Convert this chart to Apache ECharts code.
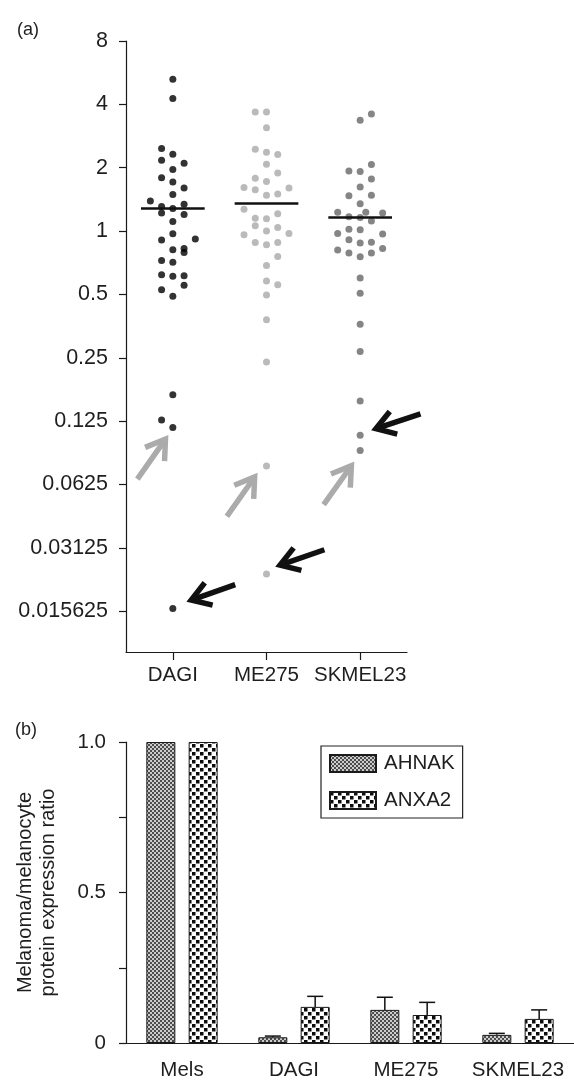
<!DOCTYPE html>
<html>
<head>
<meta charset="utf-8">
<script src="https://cdn.jsdelivr.net/npm/echarts@6/dist/echarts.min.js"></script>
<style>
html, body { margin: 0; padding: 0; background: #fff; }
#chart-container { width: 574px; height: 1081px; }
</style>
</head>
<body>
<div id="chart-container"></div>
<script>
// (a) scatter: values per cell line, slot = beeswarm column
var groupNames = ['DAGI', 'ME275', 'SKMEL23'];

var dagiValues = [5.26, 4.26, 2.47, 2.32, 2.17, 2.10, 1.96, 1.79, 1.71, 1.60, 1.49, 1.39, 1.34, 1.31, 1.28, 1.22, 1.20, 1.11,
  0.97, 0.906, 0.916, 0.815, 0.827, 0.792, 0.725, 0.71, 0.62, 0.61, 0.614, 0.553, 0.526, 0.49, 0.167, 0.1265, 0.1166, 0.0161];
var dagiSlots = [0, 0, -1, 0, -1, 1, 0, -1, 0, 1, 0, -2, 1, -1, 0, -1, 1, 0,
  0, -1, 2, 0, 1, 1, -1, 0, -1, 0, 1, 1, -1, 0, 0, -1, 0, 0];

var me275Values = [3.68, 3.68, 3.10, 2.45, 2.37, 2.31, 2.08, 1.89, 1.78, 1.72, 1.61, 1.57, 1.60, 1.48, 1.50, 1.27, 1.21, 1.15,
  1.145, 1.06, 1.0, 1.04, 0.96, 0.975, 0.883, 0.861, 0.883, 0.758, 0.687, 0.579, 0.556, 0.497, 0.379, 0.239, 0.0765, 0.0235];
var me275Slots = [-1, 0, 0, -1, 0, 1, 0, 1, -1, 0, -2, -1, 2, 0, 1, -2, 1, -1,
  0, -1, 0, 1, -2, 2, -1, 0, 1, 1, 0, 0, 1, 0, 0, 0, 0, 0];

var skmelValues = [3.60, 3.36, 2.07, 1.93, 1.92, 1.77, 1.62, 1.47, 1.48, 1.35, 1.23, 1.17, 1.16, 1.23, 1.116, 1.22,
  0.975, 1.02, 1.015, 0.968, 0.91, 0.877, 0.886, 0.812, 0.786, 0.755, 0.786, 0.827, 0.598, 0.506, 0.361, 0.268, 0.156, 0.107, 0.0906];
var skmelSlots = [1, 0, 1, -1, 0, 1, 0, -1, 1, 0, -2, -1, 0, 0.5, 1, 2,
  -2, -1, 0, 2, -1, 0, 1, -2, -1, 0, 1, 2, 0, 0, 0, 0, 0, 0, 0];

var medians = [1.29, 1.36, 1.16];

var yTicks = [0.015625, 0.03125, 0.0625, 0.125, 0.25, 0.5, 1, 2, 4, 8];
var yTickLabels = ['0.015625', '0.03125', '0.0625', '0.125', '0.25', '0.5', '1', '2', '4', '8'];

// annotation arrows [tailX, tailY, tipX, tipY]
var grayArrows = [
  [0.621, 0.0663, 0.946, 0.1064],
  [1.577, 0.0441, 1.898, 0.0703],
  [2.610, 0.0501, 2.931, 0.0795]
];
var blackArrows = [
  [1.666, 0.0209, 1.156, 0.0174],
  [2.618, 0.0306, 2.104, 0.0255],
  [3.644, 0.1354, 3.128, 0.1136]
];

// (b) bars
var barCategories = ['Mels', 'DAGI', 'ME275', 'SKMEL23'];
var ahnakValues = [1.0, 0.019, 0.110, 0.027];
var ahnakErrors = [0, 0.004, 0.042, 0.005];
var anxa2Values = [1.0, 0.120, 0.093, 0.080];
var anxa2Errors = [0, 0.035, 0.042, 0.030];

var TEXT = '#1e1e1e';
var FONT = 'Liberation Sans';
var SLOT_W = 0.12;
var MED_HALF = 0.34;
var BAR_W = 29;
var BAR_GAP = 0.46;

function swarm(values, slots, g) {
  return values.map(function (v, i) { return [g + 1 + slots[i] * SLOT_W, v]; });
}

function makePattern(size, bg, fg, rects) {
  var c = document.createElement('canvas');
  c.width = size; c.height = size;
  var ctx = c.getContext('2d');
  ctx.fillStyle = bg; ctx.fillRect(0, 0, size, size);
  ctx.fillStyle = fg;
  rects.forEach(function (r) { ctx.fillRect(r[0], r[1], r[2], r[3]); });
  return { image: c, repeat: 'repeat' };
}
var ahnakPattern = makePattern(4, '#cccccc', '#4d4d4d', [[0, 0, 2, 2], [2, 2, 2, 2]]);
var anxa2Pattern = makePattern(8, '#ffffff', '#0d0d0d', [[0, 0, 3.5, 3.5], [4, 4, 3.5, 3.5]]);

function yLabel(v) {
  for (var i = 0; i < yTicks.length; i++) {
    if (Math.abs(Math.log(yTicks[i]) - Math.log(v)) < 1e-6) return yTickLabels[i];
  }
  return '';
}

function arrowRender(color) {
  return function (params, api) {
    var p1 = api.coord([api.value(0), api.value(1)]);
    var p2 = api.coord([api.value(2), api.value(3)]);
    var back = Math.atan2(p1[1] - p2[1], p1[0] - p2[0]);
    var tip = [p2[0] + 4 * Math.cos(back), p2[1] + 4 * Math.sin(back)];
    var L = 22, h = Math.PI / 5.5;
    return {
      type: 'group',
      children: [
        { type: 'line', shape: { x1: p1[0], y1: p1[1], x2: tip[0], y2: tip[1] },
          style: { stroke: color, lineWidth: 5.5 } },
        { type: 'polyline', shape: { points: [
            [tip[0] + L * Math.cos(back + h), tip[1] + L * Math.sin(back + h)],
            tip,
            [tip[0] + L * Math.cos(back - h), tip[1] + L * Math.sin(back - h)]
          ] },
          style: { stroke: color, lineWidth: 5.5, fill: null, lineJoin: 'miter', lineCap: 'butt' } }
      ]
    };
  };
}

function errorRender(offset) {
  return function (params, api) {
    var base = api.coord([api.value(0), api.value(1)]);
    var top = api.coord([api.value(0), api.value(2)]);
    var x = base[0] + offset;
    return {
      type: 'group',
      children: [
        { type: 'line', shape: { x1: x, y1: base[1], x2: x, y2: top[1] }, style: { stroke: '#111', lineWidth: 1.5 } },
        { type: 'line', shape: { x1: x - 8, y1: top[1], x2: x + 8, y2: top[1] }, style: { stroke: '#111', lineWidth: 1.5 } }
      ]
    };
  };
}

function errData(values, errors) {
  var out = [];
  values.forEach(function (v, i) { if (errors[i] > 0) out.push([i, v, v + errors[i]]); });
  return out;
}

function medianLine(g) {
  return {
    silent: true, symbol: ['none', 'none'], label: { show: false },
    lineStyle: { color: '#111', width: 2.5, type: 'solid' },
    data: [[{ coord: [g + 1 - MED_HALF, medians[g]] }, { coord: [g + 1 + MED_HALF, medians[g]] }]]
  };
}

var axisLineStyle = { color: '#1a1a1a', width: 1.2 };
var groupColors = ['#000000', '#a9a9a9', '#666666'];
var barOffset = BAR_W * (1 + BAR_GAP) / 2;

var dom = document.getElementById('chart-container');
var myChart = echarts.init(dom);
var option;

option = {
  animation: false,
  textStyle: { fontFamily: FONT },
  title: [
    { text: '(a)', left: 12, top: 16, textStyle: { fontSize: 18, fontWeight: 'normal', color: TEXT, fontFamily: FONT } },
    { text: '(b)', left: 10, top: 716, textStyle: { fontSize: 18, fontWeight: 'normal', color: TEXT, fontFamily: FONT } }
  ],
  legend: {
    data: ['AHNAK', 'ANXA2'],
    orient: 'vertical',
    left: 321, top: 746,
    padding: [7, 8, 7, 8],
    itemWidth: 46, itemHeight: 17, itemGap: 16,
    borderColor: '#222', borderWidth: 1.2,
    selectedMode: false,
    icon: 'rect',
    textStyle: { fontSize: 20.5, color: TEXT, fontFamily: FONT, padding: [0, 0, 0, 3] }
  },
  grid: [
    { left: 126, right: 167, top: 41, bottom: 429 },
    { left: 126, right: -6, top: 742, bottom: 38 }
  ],
  xAxis: [
    {
      gridIndex: 0, type: 'value', min: 0.5, max: 3.5,
      axisLine: { lineStyle: axisLineStyle },
      axisTick: { show: true, customValues: [1, 2, 3], length: 8, lineStyle: axisLineStyle },
      axisLabel: { customValues: [1, 2, 3], formatter: function (v) { return groupNames[Math.round(v) - 1]; },
        fontSize: 20.5, margin: 13, color: TEXT },
      splitLine: { show: false }
    },
    {
      gridIndex: 1, type: 'category', data: barCategories,
      axisLine: { lineStyle: axisLineStyle },
      axisTick: { alignWithLabel: true, length: 9, lineStyle: axisLineStyle },
      axisLabel: { interval: 0, fontSize: 20.5, margin: 17, color: TEXT },
      splitLine: { show: false }
    }
  ],
  yAxis: [
    {
      gridIndex: 0, type: 'log', logBase: 2, min: 0.01, max: 8,
      axisLine: { show: true, lineStyle: axisLineStyle },
      axisTick: { show: true, customValues: yTicks, length: 7, lineStyle: axisLineStyle },
      axisLabel: { customValues: yTicks, formatter: yLabel, fontSize: 21.5, margin: 18, color: TEXT },
      splitLine: { show: false }, minorTick: { show: false }
    },
    {
      gridIndex: 1, type: 'value', min: 0, max: 1, interval: 0.25,
      name: 'Melanoma/melanocyte\nprotein expression ratio',
      nameLocation: 'middle', nameGap: 66,
      nameTextStyle: { fontSize: 20, lineHeight: 23, color: TEXT },
      axisLine: { show: true, lineStyle: axisLineStyle },
      axisTick: { show: true, length: 7, lineStyle: axisLineStyle },
      axisLabel: { fontSize: 20.5, margin: 20, color: TEXT,
        formatter: function (v) { return v === 0 ? '0' : v === 0.5 ? '0.5' : v === 1 ? '1.0' : ''; } },
      splitLine: { show: false }
    }
  ],
  series: [
    { name: 'DAGI', type: 'scatter', xAxisIndex: 0, yAxisIndex: 0, symbolSize: 7,
      itemStyle: { color: groupColors[0] }, data: swarm(dagiValues, dagiSlots, 0), markLine: medianLine(0) },
    { name: 'ME275', type: 'scatter', xAxisIndex: 0, yAxisIndex: 0, symbolSize: 7,
      itemStyle: { color: groupColors[1] }, data: swarm(me275Values, me275Slots, 1), markLine: medianLine(1) },
    { name: 'SKMEL23', type: 'scatter', xAxisIndex: 0, yAxisIndex: 0, symbolSize: 7,
      itemStyle: { color: groupColors[2] }, data: swarm(skmelValues, skmelSlots, 2), markLine: medianLine(2) },
    { name: 'grayArrows', type: 'custom', xAxisIndex: 0, yAxisIndex: 0, silent: true,
      encode: { x: [0, 2], y: [1, 3] }, renderItem: arrowRender('#ababab'), data: grayArrows },
    { name: 'blackArrows', type: 'custom', xAxisIndex: 0, yAxisIndex: 0, silent: true,
      encode: { x: [0, 2], y: [1, 3] }, renderItem: arrowRender('#111111'), data: blackArrows },
    { name: 'AHNAK', type: 'bar', xAxisIndex: 1, yAxisIndex: 1, barWidth: BAR_W, barGap: (BAR_GAP * 100) + '%',
      itemStyle: { color: ahnakPattern, borderColor: '#1a1a1a', borderWidth: 1 }, data: ahnakValues },
    { name: 'ANXA2', type: 'bar', xAxisIndex: 1, yAxisIndex: 1, barWidth: BAR_W, barGap: (BAR_GAP * 100) + '%',
      itemStyle: { color: anxa2Pattern, borderColor: '#1a1a1a', borderWidth: 1 }, data: anxa2Values },
    { name: 'AHNAK err', type: 'custom', xAxisIndex: 1, yAxisIndex: 1, silent: true,
      encode: { x: 0, y: [1, 2] }, renderItem: errorRender(-barOffset), data: errData(ahnakValues, ahnakErrors) },
    { name: 'ANXA2 err', type: 'custom', xAxisIndex: 1, yAxisIndex: 1, silent: true,
      encode: { x: 0, y: [1, 2] }, renderItem: errorRender(barOffset), data: errData(anxa2Values, anxa2Errors) }
  ]
};

if (option && typeof option === 'object') {
  myChart.setOption(option);
}

window.addEventListener('resize', myChart.resize);
</script>
</body>
</html>
